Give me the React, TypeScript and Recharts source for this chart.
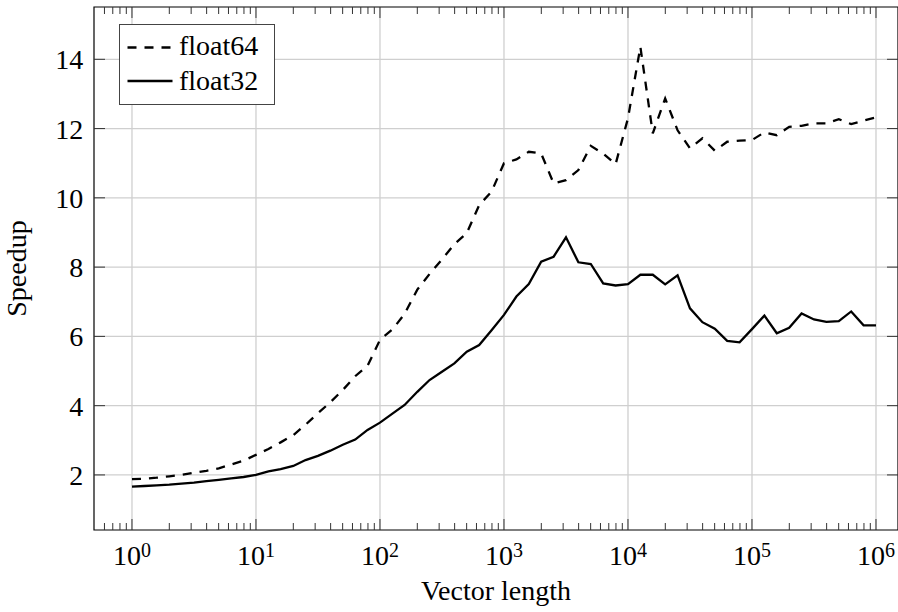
import { LineChart, Line, XAxis, YAxis, CartesianGrid, ReferenceArea, Label } from 'recharts';

// vector lengths, 10 per decade
const vectorLengths = [
  1, 1.26, 1.58, 2, 2.51, 3.16, 3.98, 5.01, 6.31, 7.94,
  10, 12.6, 15.8, 20, 25.1, 31.6, 39.8, 50.1, 63.1, 79.4,
  100, 126, 158, 200, 251, 316, 398, 501, 631, 794,
  1000, 1259, 1585, 1995, 2512, 3162, 3981, 5012, 6310, 7943,
  10000, 12589, 15849, 19953, 25119, 31623, 39811, 50119, 63096, 79433,
  100000, 125893, 158489, 199526, 251189, 316228, 398107, 501187, 630957, 794328,
  1000000,
];

const float64Speedup = [
  1.88, 1.89, 1.92, 1.96, 2.0, 2.06, 2.12, 2.19, 2.3, 2.41,
  2.58, 2.75, 2.94, 3.15, 3.45, 3.78, 4.1, 4.45, 4.85, 5.15,
  5.9, 6.2, 6.65, 7.35, 7.8, 8.22, 8.66, 8.98, 9.79, 10.18,
  11.0, 11.11, 11.33, 11.28, 10.42, 10.51, 10.8, 11.5, 11.28, 10.97,
  12.3, 14.36, 11.86, 12.87, 11.95, 11.43, 11.72, 11.36, 11.62, 11.65,
  11.67, 11.89, 11.81, 12.05, 12.08, 12.15, 12.15, 12.27, 12.13, 12.23,
  12.32,
];

const float32Speedup = [
  1.66, 1.68, 1.7, 1.72, 1.75, 1.78, 1.82, 1.86, 1.9, 1.94,
  2.0, 2.1, 2.17, 2.26, 2.43, 2.55, 2.7, 2.87, 3.02, 3.3,
  3.51, 3.77, 4.02, 4.4, 4.74, 4.98, 5.22, 5.56, 5.75, 6.18,
  6.62, 7.15, 7.51, 8.16, 8.3, 8.86, 8.14, 8.09, 7.53, 7.47,
  7.51, 7.78, 7.78, 7.5, 7.76, 6.81, 6.41, 6.22, 5.87, 5.83,
  6.21, 6.6, 6.09, 6.25, 6.66, 6.49, 6.42, 6.44, 6.72, 6.32,
  6.32,
];

const seriesNames = ['float64', 'float32'];
const xMajorTicks = [1, 10, 100, 1000, 10000, 100000, 1000000];
const xMinorFactors = [2, 3, 4, 5, 6, 7, 8, 9];
const yTicks = [2, 4, 6, 8, 10, 12, 14];

const X_DOMAIN: [number, number] = [0.494, 1505000];
const Y_DOMAIN: [number, number] = [0.41, 15.51];

const W = 898;
const H = 612;
const PLOT_TOP = 7;
const PLOT_RIGHT = 898;
const FONT = '"Liberation Serif", "Times New Roman", serif';
const GRID = '#cfcfcf';
const AXIS = '#333';

const data = vectorLengths.map((n, i) => ({
  n,
  float64: float64Speedup[i],
  float32: float32Speedup[i],
}));

const xTicks = [
  ...[0.6, 0.7, 0.8, 0.9],
  ...xMajorTicks,
  ...xMajorTicks.flatMap((m) => xMinorFactors.map((f) => m * f)),
]
  .filter((v) => v > X_DOMAIN[0] && v < X_DOMAIN[1])
  .sort((a, b) => a - b);

const isMajor = (v: number) => {
  const e = Math.log10(v);
  return Math.abs(e - Math.round(e)) < 1e-6;
};

function XTick({ x, y, payload }: any) {
  const v = payload.value;
  const major = isMajor(v);
  const len = major ? 11 : 7;
  return (
    <g>
      <line x1={x} y1={y} x2={x} y2={y - len} stroke={AXIS} strokeWidth={1} />
      <line x1={x} y1={PLOT_TOP} x2={x} y2={PLOT_TOP + len} stroke={AXIS} strokeWidth={1} />
      {major && (
        <text x={x} y={y + 35} textAnchor="middle" fontFamily={FONT} fontSize={28} fill="#000">
          <tspan>10</tspan>
          <tspan dy={-8.3} fontSize={20}>{Math.round(Math.log10(v))}</tspan>
        </text>
      )}
    </g>
  );
}

function YTick({ x, y, payload }: any) {
  return (
    <g>
      <line x1={x} y1={y} x2={x + 11} y2={y} stroke={AXIS} strokeWidth={1} />
      <line x1={PLOT_RIGHT} y1={y} x2={PLOT_RIGHT - 11} y2={y} stroke={AXIS} strokeWidth={1} />
      <text x={x - 10.7} y={y + 10} textAnchor="end" fontFamily={FONT} fontSize={28} fill="#000">
        {payload.value}
      </text>
    </g>
  );
}

function ChartLegend() {
  return (
    <svg
      width={156}
      height={81}
      style={{ position: 'absolute', left: 119, top: 24, overflow: 'visible' }}
    >
      <rect x={0.5} y={0.5} width={155} height={80} fill="#fff" stroke="#444" strokeWidth={1} />
      <line x1={8.5} y1={23.5} x2={53.5} y2={23.5} stroke="#000" strokeWidth={2.3} strokeDasharray="9 8" />
      <line x1={8.5} y1={57} x2={53.5} y2={57} stroke="#000" strokeWidth={2.3} />
      <text x={60} y={31} fontFamily={FONT} fontSize={28} fill="#000">{seriesNames[0]}</text>
      <text x={60} y={65.5} fontFamily={FONT} fontSize={28} fill="#000">{seriesNames[1]}</text>
    </svg>
  );
}

export default function App() {
  return (
    <div style={{ position: 'absolute', left: 0, top: 0, width: W, height: H, overflow: 'hidden', background: '#fff' }}>
      <LineChart width={W} height={H} data={data} margin={{ top: PLOT_TOP, right: W - PLOT_RIGHT, bottom: 81, left: 0 }}>
        {/* only the decades get a vertical grid line */}
        <CartesianGrid
          stroke={GRID}
          strokeWidth={1.3}
          verticalValues={xMajorTicks}
          horizontalValues={yTicks}
        />
        <XAxis
          dataKey="n"
          type="number"
          scale="log"
          domain={X_DOMAIN}
          allowDataOverflow
          ticks={xTicks}
          interval={0}
          height={1}
          tickSize={0}
          tickMargin={0}
          tickLine={false}
          axisLine={false}
          tick={XTick}
        >
          <Label
            content={({ viewBox }: any) => (
              <text
                x={viewBox.x + viewBox.width / 2}
                y={viewBox.y + 70}
                textAnchor="middle"
                fontFamily={FONT}
                fontSize={28}
                fill="#000"
              >
                Vector length
              </text>
            )}
          />
        </XAxis>
        <YAxis
          type="number"
          domain={Y_DOMAIN}
          allowDataOverflow
          ticks={yTicks}
          interval={0}
          width={94}
          tickSize={0}
          tickMargin={0}
          tickLine={false}
          axisLine={false}
          tick={YTick}
        >
          <Label
            content={({ viewBox }: any) => {
              const cy = viewBox.y + viewBox.height / 2;
              return (
                <text
                  x={26}
                  y={cy}
                  transform={`rotate(-90 26 ${cy})`}
                  textAnchor="middle"
                  fontFamily={FONT}
                  fontSize={28}
                  fill="#000"
                >
                  Speedup
                </text>
              );
            }}
          />
        </YAxis>
        <Line
          dataKey="float64"
          name={seriesNames[0]}
          type="linear"
          stroke="#000"
          strokeWidth={2.3}
          strokeDasharray="9 8"
          dot={false}
          isAnimationActive={false}
        />
        <Line
          dataKey="float32"
          name={seriesNames[1]}
          type="linear"
          stroke="#000"
          strokeWidth={2.3}
          dot={false}
          isAnimationActive={false}
        />
        <ReferenceArea
          x1={X_DOMAIN[0]}
          x2={X_DOMAIN[1]}
          y1={Y_DOMAIN[0]}
          y2={Y_DOMAIN[1]}
          fill="none"
          fillOpacity={0}
          stroke="#000"
          strokeWidth={1.2}
          ifOverflow="visible"
        />
      </LineChart>
      <ChartLegend />
    </div>
  );
}
